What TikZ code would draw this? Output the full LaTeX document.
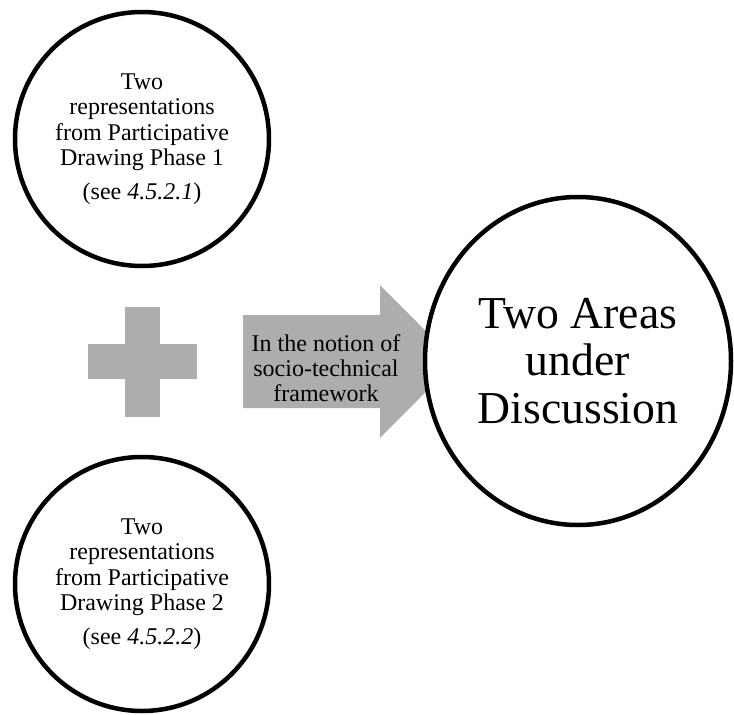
\documentclass[tikz,border=0pt]{standalone}
\usepackage{fontspec}
\setmainfont{Liberation Serif}
\usepackage{tikz}
\usetikzlibrary{shapes}
\definecolor{shapeGray}{RGB}{173,173,173}

\begin{document}
\begin{tikzpicture}[x=1pt, y=-1pt]%
  \tikzset{phase circle/.style={draw, circle, fill=white, line width=4.5pt, minimum size=254pt, inner sep=0pt, align=center, font=\fontsize{24}{25.5}\selectfont}}
  \tikzstyle{grey shape}=[fill=shapeGray, draw=none]

  \useasboundingbox (0,0) rectangle (734,715);

  \node[phase circle] at (142,139) (P1) {Two\\representations\\from Participative\\Drawing Phase 1\\[8pt](see \textit{4.5.2.1})};
  \node[phase circle] at (142,584) (P2) {Two\\representations\\from Participative\\Drawing Phase 2\\[8pt](see \textit{4.5.2.2})};

  % plus sign
  \fill[grey shape] (88,344) rectangle (197,379);
  \fill[grey shape] (125,307) rectangle (160,417);

  % big arrow
  \fill[grey shape] (243,315) -- (380,315) -- (380,285) -- (456,361.5) -- (380,438) -- (380,408) -- (243,408) -- cycle;
  \node[align=center, font=\fontsize{24}{25}\selectfont] at (326,368) (notion) {In the notion of\\socio-technical\\framework};

  \node[draw, ellipse, fill=white, line width=4.5pt, minimum width=306pt, minimum height=328pt, inner sep=0pt, align=center, font=\fontsize{45.7}{47.5}\selectfont] at (578,361) (areas) {Two Areas\\under\\Discussion};
\end{tikzpicture}
\end{document}
